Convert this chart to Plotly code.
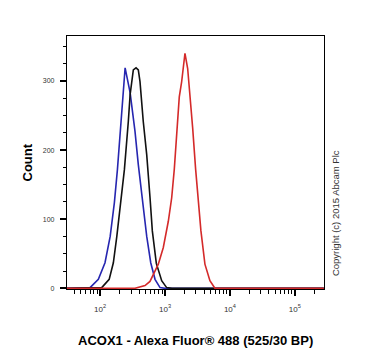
import plotly.graph_objects as go

# Fluorescence intensity (x) and event count (y) for each histogram
blue_x = [30, 61, 70, 94, 119, 143, 166, 185, 210, 243, 290, 345, 388, 448, 523, 603, 702, 838, 1000, 280000]
blue_y = [0, 0, 1, 13, 37, 75, 124, 172, 244, 319, 283, 227, 179, 124, 75, 37, 13, 1, 0, 0]

black_x = [30, 65, 106, 138, 160, 181, 210, 237, 272, 290, 325, 358, 388, 412, 463, 523, 588, 638, 735, 889, 1061, 1282, 280000]
black_y = [0, 0, 1, 13, 37, 75, 124, 172, 241, 280, 316, 319, 316, 299, 241, 193, 131, 83, 36, 11, 1, 0, 0]

red_x = [30, 345, 492, 587, 789, 942, 1125, 1268, 1390, 1514, 1660, 1807, 2031, 2235, 2425, 2668, 2966, 3251, 3578, 4123, 4923, 5875, 280000]
red_y = [0, 0, 4, 10, 35, 59, 97, 131, 172, 217, 277, 299, 340, 318, 280, 232, 172, 131, 83, 35, 11, 0, 0]

x_major = [100, 1000, 10000, 100000]
x_major_text = ["10<sup>2</sup>", "10<sup>3</sup>", "10<sup>4</sup>", "10<sup>5</sup>"]
y_major = [0, 100, 200, 300]

x_minor = [m * 10 ** k for k in range(1, 6) for m in range(2, 10)]

fig = go.Figure()
fig.add_trace(go.Scatter(x=blue_x, y=blue_y, mode="lines", line=dict(color="#2626b0", width=1.6)))
fig.add_trace(go.Scatter(x=black_x, y=black_y, mode="lines", line=dict(color="#111111", width=1.6)))
fig.add_trace(go.Scatter(x=red_x, y=red_y, mode="lines", line=dict(color="#d42a2a", width=1.6)))

# page body has an 8px default margin, so the figure is 8px smaller
fig.update_layout(
    width=362, height=350,
    margin=dict(l=59, r=46, t=28, b=69),
    paper_bgcolor="white", plot_bgcolor="white",
    showlegend=False,
    font=dict(family="Liberation Sans, Arial", color="#222"),
)
fig.update_xaxes(
    type="log", range=[1.49, 5.45], automargin=False,
    tickmode="array", tickvals=x_major, ticktext=x_major_text,
    ticks="outside", ticklen=6, tickwidth=2, tickcolor="black",
    tickfont=dict(size=8, color="#333"), ticklabelstandoff=6,
    minor=dict(tickmode="array", tickvals=x_minor, ticks="outside", ticklen=4, tickwidth=1, tickcolor="black", showgrid=False),
    showline=True, linecolor="black", linewidth=1.2, mirror=True,
    showgrid=False, zeroline=False,
)
fig.update_yaxes(
    range=[-1, 365], automargin=False,
    tickmode="array", tickvals=y_major,
    ticks="outside", ticklen=6, tickwidth=2, tickcolor="black",
    tickfont=dict(size=7, color="#333"), ticklabelstandoff=4,
    minor=dict(dtick=25, tick0=0, ticks="outside", ticklen=3, tickwidth=1, tickcolor="black", showgrid=False),
    showline=True, linecolor="black", linewidth=1.2, mirror=True,
    showgrid=False, zeroline=False,
)
fig.add_annotation(
    text="<b>ACOX1 - Alexa Fluor® 488 (525/30 BP)</b>",
    xref="paper", yref="paper", x=0.5, y=0, yanchor="middle", yshift=-51,
    showarrow=False, font=dict(size=13, color="black"),
)
fig.add_annotation(
    text="<b>Count</b>", textangle=-90,
    xref="paper", yref="paper", x=0, y=0.5, xanchor="center", xshift=-40,
    showarrow=False, font=dict(size=13, color="black"),
)
fig.add_annotation(
    text="Copyright (c) 2015 Abcam Plc", textangle=-90,
    xref="paper", yref="paper", x=1.0, y=0.3, xanchor="center", yanchor="middle",
    xshift=11, showarrow=False, font=dict(size=9.5, color="#333", family="Liberation Sans, Arial"),
)
fig.write_html("out.html")
